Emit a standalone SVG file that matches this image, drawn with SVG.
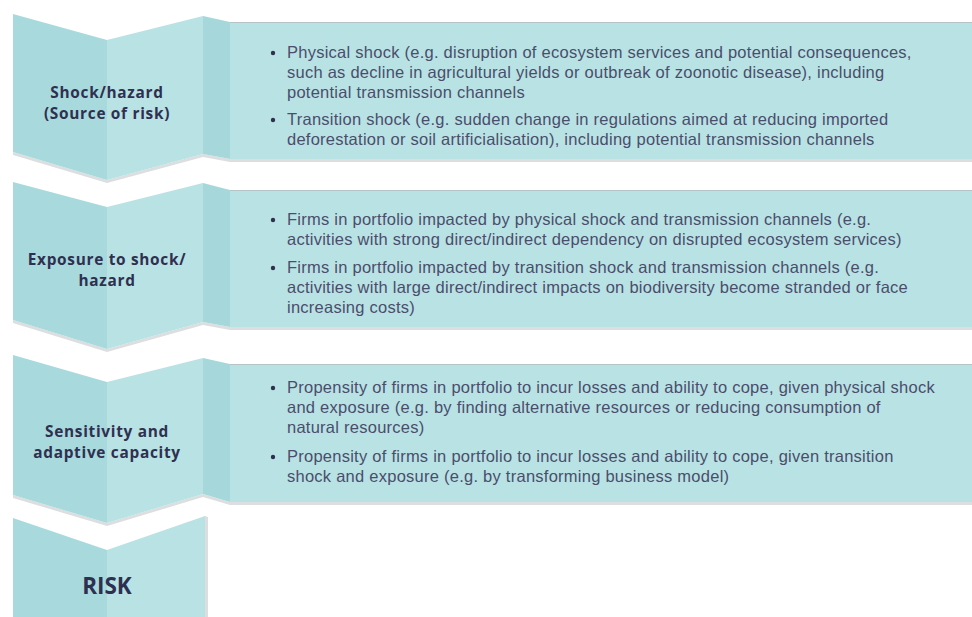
<svg xmlns="http://www.w3.org/2000/svg" width="972" height="617" viewBox="0 0 972 617">
<defs>
<style>
.dark{fill:#a8dadd}
.light{fill:#b9e2e4}
.fold{fill:#a6d8db}
.shadow{fill:#dcdedf}
.edge{fill:none;stroke:#b5c4c6;stroke-width:1}
.lbl{font-family:"Open Sans","Noto Sans",sans-serif;font-weight:700;font-size:15.4px;letter-spacing:0.7px;fill:#2f3050;text-anchor:middle}
.risk{font-family:"Open Sans","Noto Sans",sans-serif;font-weight:700;font-size:22.5px;fill:#2f3050;text-anchor:middle}
.body{font-family:"Liberation Sans",Arial,sans-serif;font-size:16.5px;letter-spacing:0.25px;fill:#4a4e6c}
.dot{fill:#2f3050}
</style>
</defs>
<rect width="972" height="617" fill="#ffffff"/>

<g id="block1">
<polygon class="shadow" points="13,155 107,183 203,157 230,162 972,162 972,159 230,159 203,154 107,180 13,152"/>
<polygon class="dark" points="13,14 107,40 107,180 13,152"/>
<polygon class="light" points="107,40 203,16 203,154 107,180"/>
<polygon class="fold" points="203,16 230,22 230,159 203,154"/>
<rect class="light" x="230" y="22" width="742" height="137"/>
<line class="edge" x1="230" y1="22.5" x2="972" y2="22.5"/>
<text class="lbl" x="107" y="98">Shock/hazard</text>
<text class="lbl" x="107" y="119">(Source of risk)</text>
<circle class="dot" cx="273" cy="53" r="2.2"/>
<text class="body" x="287" y="58">Physical shock (e.g. disruption of ecosystem services and potential consequences,</text>
<text class="body" x="287" y="78">such as decline in agricultural yields or outbreak of zoonotic disease), including</text>
<text class="body" x="287" y="98">potential transmission channels</text>
<circle class="dot" cx="273" cy="120" r="2.2"/>
<text class="body" x="287" y="125">Transition shock (e.g. sudden change in regulations aimed at reducing imported</text>
<text class="body" x="287" y="145">deforestation or soil artificialisation), including potential transmission channels</text>
</g>

<g id="block2">
<polygon class="shadow" points="13,323 107,352 203,325 230,330 972,330 972,327 230,327 203,322 107,349 13,320"/>
<polygon class="dark" points="13,182 107,207 107,349 13,320"/>
<polygon class="light" points="107,207 203,183 203,322 107,349"/>
<polygon class="fold" points="203,183 230,190 230,327 203,322"/>
<rect class="light" x="230" y="190" width="742" height="137"/>
<line class="edge" x1="230" y1="190.5" x2="972" y2="190.5"/>
<text class="lbl" x="107" y="265">Exposure to shock/</text>
<text class="lbl" x="107" y="286">hazard</text>
<circle class="dot" cx="273" cy="220" r="2.2"/>
<text class="body" x="287" y="225">Firms in portfolio impacted by physical shock and transmission channels (e.g.</text>
<text class="body" x="287" y="245">activities with strong direct/indirect dependency on disrupted ecosystem services)</text>
<circle class="dot" cx="273" cy="268" r="2.2"/>
<text class="body" x="287" y="273">Firms in portfolio impacted by transition shock and transmission channels (e.g.</text>
<text class="body" x="287" y="293">activities with large direct/indirect impacts on biodiversity become stranded or face</text>
<text class="body" x="287" y="313">increasing costs)</text>
</g>

<g id="block3">
<polygon class="shadow" points="13,498 107,526 203,497 230,505 972,505 972,502 230,502 203,494 107,523 13,495"/>
<polygon class="dark" points="13,355 107,382 107,523 13,495"/>
<polygon class="light" points="107,382 203,358 203,494 107,523"/>
<polygon class="fold" points="203,358 230,364 230,502 203,494"/>
<rect class="light" x="230" y="364" width="742" height="138"/>
<line class="edge" x1="230" y1="364.5" x2="972" y2="364.5"/>
<text class="lbl" x="107" y="437">Sensitivity and</text>
<text class="lbl" x="107" y="458">adaptive capacity</text>
<circle class="dot" cx="273" cy="388" r="2.2"/>
<text class="body" x="287" y="393">Propensity of firms in portfolio to incur losses and ability to cope, given physical shock</text>
<text class="body" x="287" y="413">and exposure (e.g. by finding alternative resources or reducing consumption of</text>
<text class="body" x="287" y="433">natural resources)</text>
<circle class="dot" cx="273" cy="457" r="2.2"/>
<text class="body" x="287" y="462">Propensity of firms in portfolio to incur losses and ability to cope, given transition</text>
<text class="body" x="287" y="482">shock and exposure (e.g. by transforming business model)</text>
</g>

<g id="risk">
<polygon class="shadow" points="205,516 208,517 208,617 205,617"/>
<polygon class="dark" points="13,518 107,550 107,617 13,617"/>
<polygon class="light" points="107,550 205,516 205,617 107,617"/>
<text class="risk" x="107" y="594">RISK</text>
</g>

<g id="connectors"></g>
</svg>
